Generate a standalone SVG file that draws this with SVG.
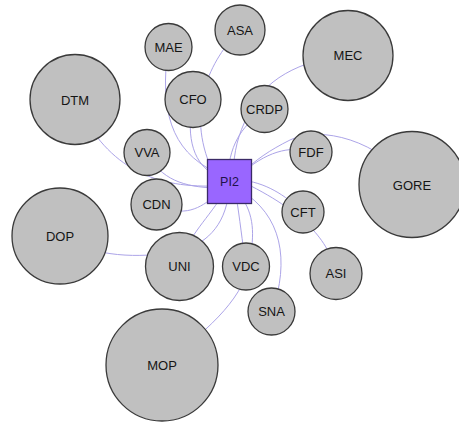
<svg xmlns="http://www.w3.org/2000/svg" width="459" height="423" viewBox="0 0 459 423">
<style>
.e{fill:none;stroke:#aca4e8;stroke-width:1}
.n{fill:#c0c0c0;stroke:#3a3a3a;stroke-width:1.3}
.t{font-family:"Liberation Sans",Arial,sans-serif;font-size:13px;fill:#151515;text-anchor:middle}
.c{fill:#9966ff;stroke:#3a2a66;stroke-width:1.3}
.ct{font-family:"Liberation Sans",Arial,sans-serif;font-size:12.5px;fill:#22124a;text-anchor:middle}
</style>
<rect width="459" height="423" fill="#fff"/>
<g id="edges">
<path class="e" d="M168,47 C160,110 170,150 215,172"/>
<path class="e" d="M240,30 C210,60 185,110 212,170"/>
<path class="e" d="M193,100 C185,140 195,165 215,175"/>
<path class="e" d="M75,100 C105,165 150,188 215,186"/>
<path class="e" d="M147,152 C160,180 185,187 215,188"/>
<path class="e" d="M157,205 C185,218 200,208 215,196"/>
<path class="e" d="M60,236 C95,258 140,258 175,252 C200,247 222,232 228,198"/>
<path class="e" d="M180,266 C185,240 205,222 222,196"/>
<path class="e" d="M162,365 C215,325 245,295 250,260 C254,235 255,215 240,195"/>
<path class="e" d="M246,266 C242,240 240,220 236,195"/>
<path class="e" d="M272,312 C290,260 282,215 240,190"/>
<path class="e" d="M303,212 C285,195 265,182 240,180"/>
<path class="e" d="M336,273 C330,245 310,215 245,183"/>
<path class="e" d="M311,152 C290,145 265,152 240,175"/>
<path class="e" d="M412,185 C380,140 320,125 290,140 C270,150 255,160 240,175"/>
<path class="e" d="M264,109 C245,125 230,140 228,175"/>
<path class="e" d="M348,55 C300,60 262,80 248,115 C238,135 234,150 233,175"/>
</g>
<g id="MAE"><circle class="n" cx="168.5" cy="47" r="23.5"/><text class="t" x="168.5" y="51.5">MAE</text></g>
<g id="ASA"><circle class="n" cx="240" cy="30" r="25"/><text class="t" x="240" y="34.5">ASA</text></g>
<g id="MEC"><circle class="n" cx="348" cy="55.5" r="45"/><text class="t" x="348" y="60">MEC</text></g>
<g id="DTM"><circle class="n" cx="75" cy="99.5" r="45"/><text class="t" x="75" y="104.5">DTM</text></g>
<g id="CFO"><circle class="n" cx="193" cy="99.5" r="28"/><text class="t" x="193" y="104">CFO</text></g>
<g id="CRDP"><circle class="n" cx="264.5" cy="109" r="23.5"/><text class="t" x="264.5" y="113.5">CRDP</text></g>
<g id="VVA"><circle class="n" cx="147" cy="152.5" r="23"/><text class="t" x="147" y="157">VVA</text></g>
<g id="FDF"><circle class="n" cx="311" cy="152" r="21"/><text class="t" x="311" y="156.5">FDF</text></g>
<g id="GORE"><circle class="n" cx="412" cy="184.5" r="53"/><text class="t" x="412" y="189.5">GORE</text></g>
<g id="CDN"><circle class="n" cx="156.5" cy="204.5" r="25.5"/><text class="t" x="156.5" y="209">CDN</text></g>
<g id="CFT"><circle class="n" cx="303" cy="212" r="21"/><text class="t" x="303" y="216.5">CFT</text></g>
<g id="DOP"><circle class="n" cx="60" cy="236" r="48"/><text class="t" x="60" y="240.5">DOP</text></g>
<g id="UNI"><circle class="n" cx="179.5" cy="266.5" r="34"/><text class="t" x="179.5" y="271">UNI</text></g>
<g id="VDC"><circle class="n" cx="246" cy="266.5" r="23.5"/><text class="t" x="246" y="271">VDC</text></g>
<g id="ASI"><circle class="n" cx="336" cy="273.5" r="26"/><text class="t" x="336" y="278">ASI</text></g>
<g id="SNA"><circle class="n" cx="271.5" cy="311.5" r="23.5"/><text class="t" x="271.5" y="316">SNA</text></g>
<g id="MOP"><circle class="n" cx="162" cy="365" r="56"/><text class="t" x="162" y="369.5">MOP</text></g>
<g id="PI2"><rect class="c" x="207.5" y="159.5" width="44" height="44"/><text class="ct" x="229.5" y="186">PI2</text></g>
</svg>
